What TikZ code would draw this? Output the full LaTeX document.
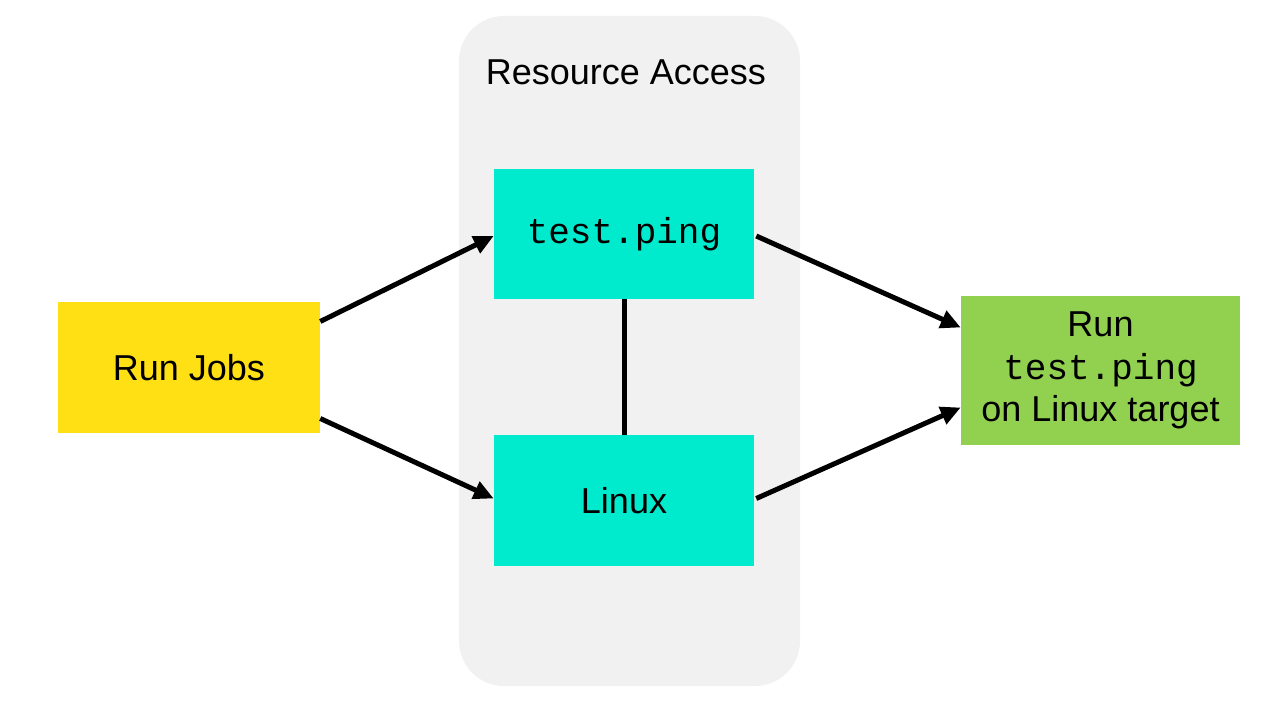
\documentclass[tikz,border=0pt]{standalone}
\usepackage{fontspec}
\setmainfont{Liberation Sans}
\setmonofont{Liberation Mono}
\usetikzlibrary{arrows.meta,calc}
\definecolor{rjyellow}{HTML}{FFE014}
\definecolor{rcyan}{HTML}{00EBCD}
\definecolor{rgreen}{HTML}{92D050}
\definecolor{rgray}{HTML}{F1F1F1}
\tikzset{
  box/.style={draw=none,inner sep=0pt,align=center,font=\fontsize{27}{32}\selectfont},
  conn/.style={line width=3.75pt,-{Triangle[length=15pt,width=13.5pt]}},
  plainconn/.style={line width=3.75pt},
}
\begin{document}
\begin{tikzpicture}[x=0.75pt,y=-0.75pt]
\useasboundingbox (0,0) rectangle (1280,720);
\fill[white] (0,0) rectangle (1280,720);
\fill[rgray,rounded corners=33.75pt] (459,16) rectangle (800,686);
\node[font=\fontsize{27}{32}\selectfont] (title) at (626,72) {Resource Access};
\node[box,fill=rjyellow,minimum width=196.5pt,minimum height=98.25pt] (rj) at (189,367.5) {Run Jobs};
\node[box,fill=rcyan,minimum width=195pt,minimum height=97.5pt] (tp) at (624,234) {\ttfamily test.ping};
\node[box,fill=rcyan,minimum width=195pt,minimum height=98.25pt] (lx) at (624,500.5) {Linux};
\node[box,fill=rgreen,minimum width=209.25pt,minimum height=111.75pt] (gr) at (1100.5,370.5) {Run\\{\ttfamily test.ping}\\on Linux target};
\draw[conn] ($(rj.east)+(0,-46)$) -- ($(tp.west)+(0,2)$);
\draw[conn] ($(rj.east)+(0,51)$) -- ($(lx.west)+(0,-2)$);
\draw[conn] ($(tp.east)+(2,2)$) -- ($(gr.west)+(0,-43)$);
\draw[conn] ($(lx.east)+(2,-2)$) -- ($(gr.west)+(0,37)$);
\draw[plainconn] (tp.south) -- (lx.north);
\end{tikzpicture}
\end{document}
